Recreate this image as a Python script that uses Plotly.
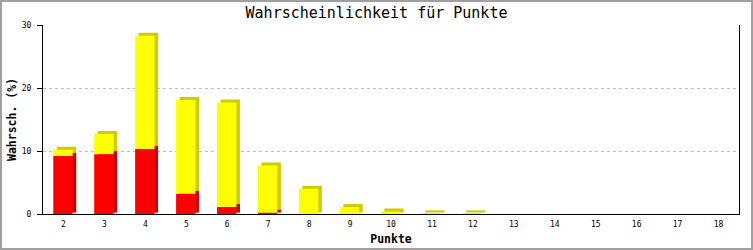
import plotly.graph_objects as go

punkte = list(range(2, 19))
tick_labels = [str(p) for p in punkte]
rot = [9.2, 9.5, 10.3, 3.2, 1.1, 0.2, 0, 0, 0, 0, 0, 0, 0, 0, 0, 0, 0]
gelb = [1.0, 3.2, 18.0, 14.9, 16.6, 7.5, 4.0, 1.1, 0.4, 0.1, 0.1, 0, 0, 0, 0, 0, 0]

W, H = 753, 250
ML, MR, MT, MB = 43, 14, 25, 36
PW, PH = W - ML - MR, H - MT - MB

x_min, x_max = 1.5, 18.5
y_max = 30
px_per_x = PW / (x_max - x_min)
px_per_y = PH / y_max

front_off = -10.2 / px_per_x
bar_w = 19.4 / px_per_x
depth_x = 3.5 / px_per_x
depth_y = 3.0 / px_per_y
gap_y = 1.5 / px_per_y

total = [r + g for r, g in zip(rot, gelb)]

RED, DRED = "#FF0000", "#C80000"
YEL, DYEL = "#FFFF00", "#CCCC00"

fig = go.Figure()

def bar(y, base, color, off):
    fig.add_trace(go.Bar(
        x=punkte, y=y, base=base, width=bar_w, offset=off,
        marker=dict(color=color, line=dict(width=0)),
        hoverinfo="skip", showlegend=False,
    ))

# 3D side/top faces (shadow), then front faces
bar([t + depth_y - gap_y if t > 0 else 0 for t in total],
    [gap_y if t > 0 else 0 for t in total], DYEL, front_off + depth_x)
bar([r + depth_y - gap_y if r > 0 else 0 for r in rot],
    [gap_y if r > 0 else 0 for r in rot], DRED, front_off + depth_x)
bar(rot, [0] * len(rot), RED, front_off)
bar(gelb, rot, YEL, front_off)

font = "DejaVu Sans Mono"

fig.update_layout(
    width=W, height=H,
    margin=dict(l=ML, r=MR, t=MT, b=MB, pad=0, autoexpand=False),
    paper_bgcolor="white", plot_bgcolor="white",
    barmode="overlay",
    title=dict(text="Wahrscheinlichkeit für Punkte", x=0.5, xanchor="center",
               y=1 - 13 / H, yanchor="middle",
               font=dict(family=font, size=15, color="black")),
    font=dict(family=font, color="black"),
    xaxis=dict(
        range=[x_min, x_max], tickmode="array", tickvals=punkte, ticktext=tick_labels,
        showgrid=False, zeroline=False, showline=True, linecolor="black", linewidth=1,
        ticks="", tickfont=dict(family=font, size=8, color="#000000"),
        ticklabelstandoff=2, automargin=False,
        title=dict(text="<b>Punkte</b>", font=dict(family=font, size=11.5, color="black"), standoff=7),
        fixedrange=True,
    ),
    yaxis=dict(
        range=[0, y_max], tickmode="array", tickvals=[0, 10, 20, 30],
        showgrid=True, gridcolor="#BBBBBB", griddash="dot", gridwidth=1,
        zeroline=False, showline=True, linecolor="black", linewidth=1, mirror=True,
        ticks="outside", ticklen=5, tickcolor="black", tickwidth=1,
        tickfont=dict(family=font, size=8, color="#000000"),
        ticklabelstandoff=4, automargin=False,
        title=dict(text="<b>Wahrsch. (%)</b>", font=dict(family=font, size=11.5, color="black"), standoff=2),
        fixedrange=True,
    ),
    shapes=[dict(
        type="rect", xref="paper", yref="paper",
        x0=-(ML - 1) / PW, x1=1 + (MR - 1) / PW,
        y0=-(MB - 1) / PH, y1=1 + (MT - 1) / PH,
        line=dict(color="#A0A0A0", width=2), fillcolor="rgba(0,0,0,0)", layer="above",
    )],
)

fig.write_html("out.html", config={"displayModeBar": False})
